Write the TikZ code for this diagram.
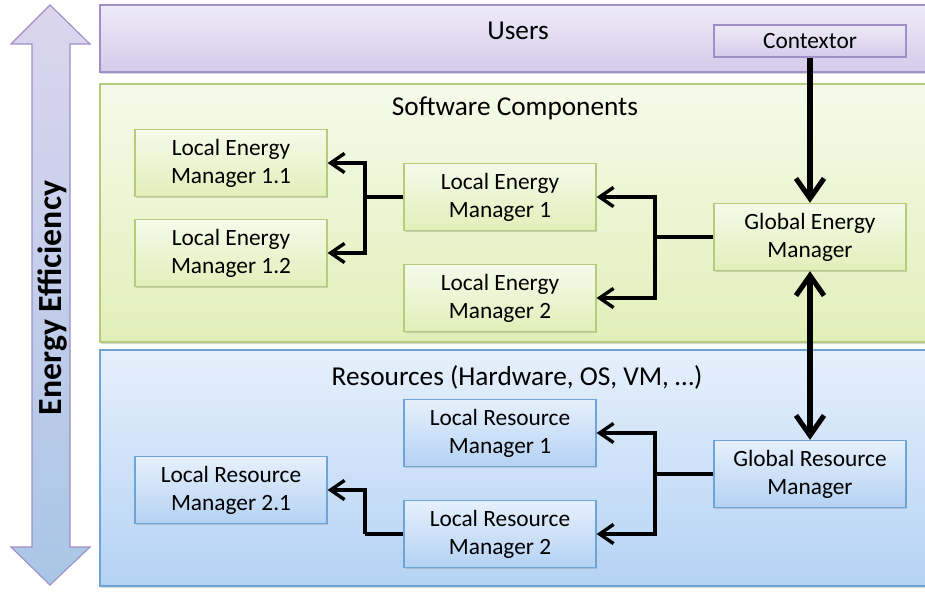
\documentclass[tikz,border=0pt]{standalone}
\usepackage{fontspec}
\setmainfont{Carlito}
\usetikzlibrary{arrows.meta,shadows}
\definecolor{usrtop}{HTML}{EEEBF7}
\definecolor{usrbot}{HTML}{D3CBEA}
\definecolor{usrline}{HTML}{9F8FC6}
\definecolor{swtop}{HTML}{F6FAEA}
\definecolor{swbot}{HTML}{E1EFB9}
\definecolor{swline}{HTML}{B5CD7A}
\definecolor{restop}{HTML}{E6F0FC}
\definecolor{resbot}{HTML}{B4D2F4}
\definecolor{resline}{HTML}{6FA5D6}
\definecolor{arrbot}{HTML}{A9C6E6}

\begin{document}
\begin{tikzpicture}[x=0.025cm,y=-0.025cm,
	font=\fontsize{16.6}{20}\selectfont,
	band/.style={line width=0.8pt,drop shadow={opacity=0.3,shadow xshift=0.8pt,shadow yshift=-1.2pt}},
	title/.style={font=\fontsize{19.4}{23}\selectfont},
	box/.style={rectangle,align=center,minimum width=4.8cm,minimum height=1.68cm,inner sep=0pt,line width=0.8pt,
		drop shadow={opacity=0.3,shadow xshift=1pt,shadow yshift=-1pt}},
	ebox/.style={box,draw=swline,top color=swtop,bottom color=swbot},
	rbox/.style={box,draw=resline,top color=restop,bottom color=resbot},
	ubox/.style={box,draw=usrline,top color=usrtop,bottom color=usrbot,minimum height=0.8cm},
	big/.style={line width=3.6pt,-{Straight Barb[length=5mm,width=7mm]}},
	small/.style={line width=2.4pt,-{Straight Barb[length=3.5mm,width=4.8mm]}},
	joint/.style={line width=2.4pt}]
	\useasboundingbox (0,0) rectangle (925,591);
	\draw[band,draw=usrline,top color=usrtop,bottom color=usrbot] (100,5) rectangle (930,72);
	\draw[band,draw=swline,top color=swtop,bottom color=swbot] (100,84) rectangle (930,342);
	\draw[band,draw=resline,top color=restop,bottom color=resbot] (100,350) rectangle (930,586);
	\draw[draw=usrline,line width=0.8pt,top color=usrbot!80,middle color=white,bottom color=arrbot]
		(50,5) -- (90,44) -- (70,44) -- (70,547) -- (90,547) -- (50,585) -- (11,547) -- (32,547)
		-- (32,44) -- (11,44) -- cycle;
	\node[rotate=90,font=\fontsize{24}{28}\selectfont\bfseries] (eff) at (52,298) {Energy Efficiency};
	\node[title] (users) at (518,31) {Users};
	\node[title] (soft) at (515,108) {Software Components};
	\node[title] (res) at (517,377) {Resources (Hardware, OS, VM, \ldots)};
	\node[ubox] (ctx) at (810,41) {Contextor};
	\node[ebox] (gem) at (810,237) {Global Energy\\Manager};
	\node[ebox] (lem1) at (500,197) {Local Energy\\Manager 1};
	\node[ebox] (lem2) at (500,298) {Local Energy\\Manager 2};
	\node[ebox] (lem11) at (231,163) {Local Energy\\Manager 1.1};
	\node[ebox] (lem12) at (231,253) {Local Energy\\Manager 1.2};
	\node[rbox] (grm) at (810,474) {Global Resource\\Manager};
	\node[rbox] (lrm1) at (500,433) {Local Resource\\Manager 1};
	\node[rbox] (lrm2) at (500,534) {Local Resource\\Manager 2};
	\node[rbox] (lrm21) at (231,490) {Local Resource\\Manager 2.1};
	\coordinate (ge) at (655,237);
	\coordinate (le) at (365,197);
	\coordinate (gr) at (655,474);
	\coordinate (lr) at (365,534);
	\draw[big] (ctx) -- (gem);
	\draw[big,{Straight Barb[length=5mm,width=7mm]}-{Straight Barb[length=5mm,width=7mm]}] (gem) -- (grm);
	\draw[joint] (gem.west) -- (ge);
	\draw[small] (ge) |- (lem1.east);
	\draw[small] (ge) |- (lem2.east);
	\draw[joint] (lem1.west) -- (le);
	\draw[small] (le) |- (lem11.east);
	\draw[small] (le) |- (lem12.east);
	\draw[joint] (grm.west) -- (gr);
	\draw[small] (gr) |- (lrm1.east);
	\draw[small] (gr) |- (lrm2.east);
	\draw[joint] (lrm2.west) -- (lr);
	\draw[small] (lr) |- (lrm21.east);
\end{tikzpicture}
\end{document}
